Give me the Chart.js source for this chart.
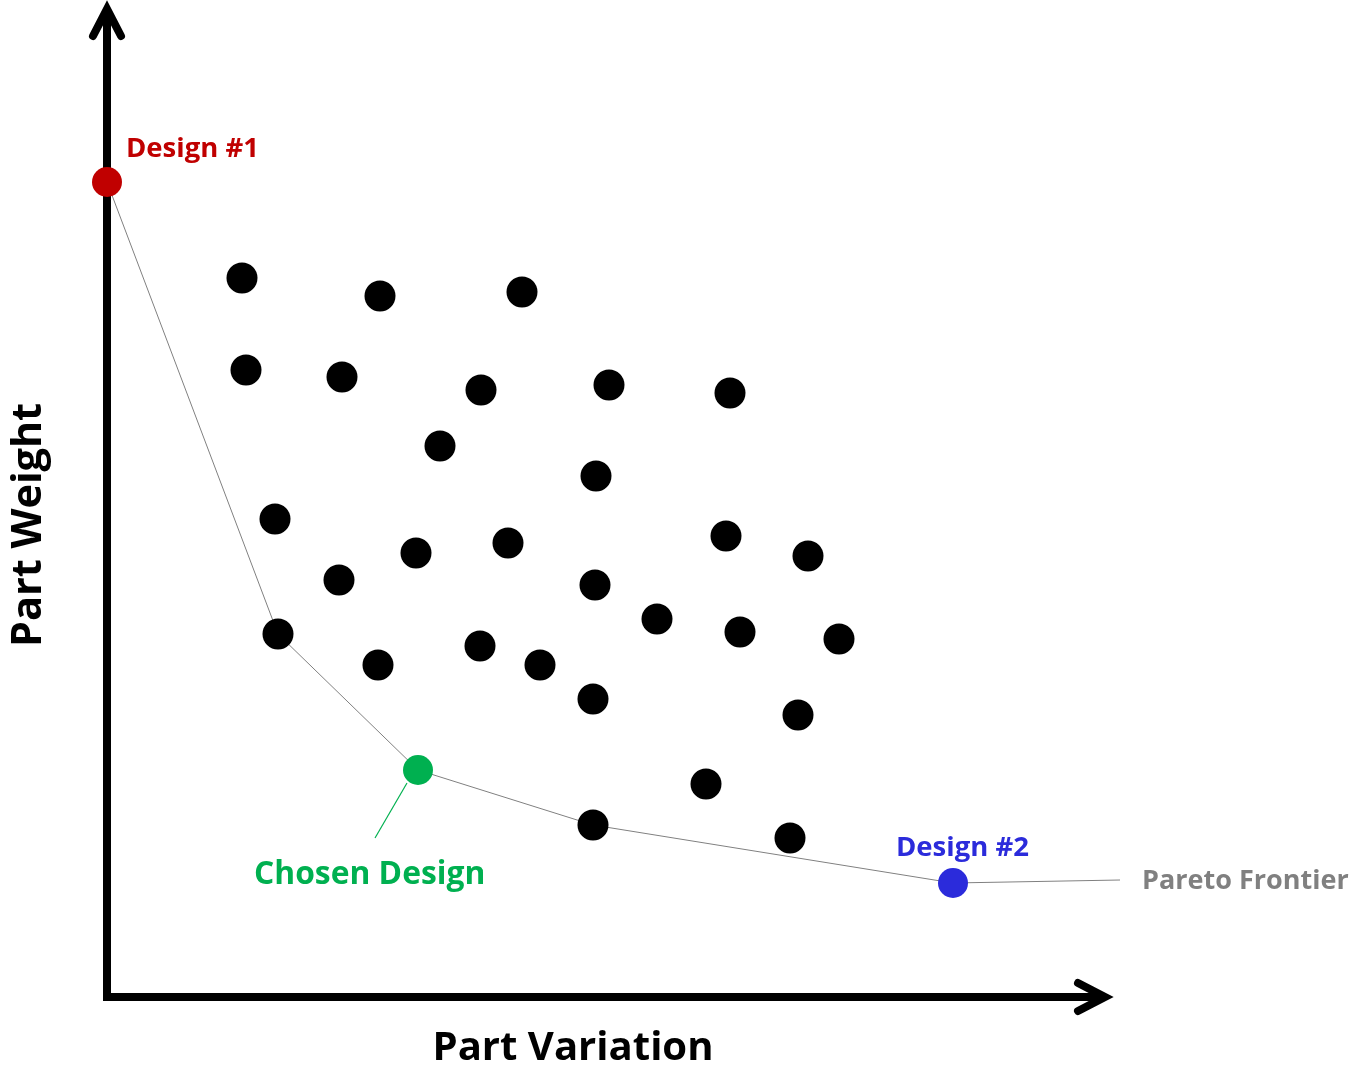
<!DOCTYPE html>
<html>
<head>
<meta charset="utf-8">
<title>Pareto Frontier</title>
<script src="https://cdn.jsdelivr.net/npm/chart.js@4/dist/chart.umd.min.js"></script>
<style>
  html, body { margin: 0; padding: 0; background: #fff; }
  #wrap { width: 1353px; height: 1070px; }
</style>
</head>
<body>
<div id="wrap"><canvas id="chart"></canvas></div>
<script>
// candidate designs (x = part variation, y = part weight)
const designX = [13.5, 27.3, 41.5, 13.9, 23.5, 37.4, 50.2, 62.3, 33.3, 48.9,
                 16.8, 30.9, 40.1, 61.9, 70.1, 23.2, 48.8, 55.0, 63.3, 73.2,
                 17.1, 27.1, 37.3, 43.3, 48.6, 69.1, 59.9, 48.6, 68.3];
const designY = [71.9, 70.1, 70.5, 62.7, 62.0, 60.7, 61.2, 60.4, 55.1, 52.1,
                 47.8, 44.4, 45.4, 46.1, 44.1, 41.7, 41.2, 37.8, 36.5, 35.8,
                 36.3, 33.2, 35.1, 33.2, 29.8, 28.2, 21.3, 17.2, 15.9];

// pareto frontier
const frontX = [0, 17.1, 31.1, 48.6, 84.6, 101.3];
const frontY = [81.5, 36.3, 22.7, 17.2, 11.4, 11.7];

// highlighted designs
const design1 = { x: 0, y: 81.5 };
const chosen = { x: 31.1, y: 22.7 };
const design2 = { x: 84.6, y: 11.4 };

const FONT = "'Open Sans', 'Noto Sans', sans-serif";

function toPoints(xs, ys) {
  return xs.map((x, i) => ({ x: x, y: ys[i] }));
}

// bold text sized so that it spans the given width
function fitText(ctx, text, width) {
  ctx.font = "bold 100px " + FONT;
  const size = 100 * width / ctx.measureText(text).width;
  ctx.font = "bold " + size.toFixed(1) + "px " + FONT;
}

const decorations = {
  id: "decorations",
  beforeDatasetsDraw(chart) {
    const ctx = chart.ctx;
    const xs = chart.scales.x, ys = chart.scales.y;
    const x0 = xs.getPixelForValue(0), y0 = ys.getPixelForValue(0);
    const xEnd = xs.getPixelForValue(100), yEnd = ys.getPixelForValue(99);

    ctx.save();
    ctx.strokeStyle = "#000";
    ctx.lineWidth = 8;
    ctx.lineCap = "butt";
    // axes
    ctx.beginPath();
    ctx.moveTo(x0, y0 + 4);
    ctx.lineTo(x0, yEnd + 2);
    ctx.moveTo(x0 - 4, y0);
    ctx.lineTo(xEnd - 2, y0);
    ctx.stroke();
    // arrow heads
    ctx.lineCap = "round";
    ctx.beginPath();
    ctx.moveTo(x0 - 14, yEnd + 29);
    ctx.lineTo(x0, yEnd + 2);
    ctx.lineTo(x0 + 14, yEnd + 29);
    ctx.moveTo(xEnd - 29, y0 - 14);
    ctx.lineTo(xEnd - 2, y0);
    ctx.lineTo(xEnd - 29, y0 + 14);
    ctx.stroke();

    // leader to chosen design
    const cx = xs.getPixelForValue(chosen.x), cy = ys.getPixelForValue(chosen.y);
    ctx.strokeStyle = "#00B050";
    ctx.lineWidth = 1.2;
    ctx.lineCap = "butt";
    ctx.beginPath();
    ctx.moveTo(cx - 11, cy + 13);
    ctx.lineTo(cx - 43, cy + 68);
    ctx.stroke();

    // axis titles
    ctx.fillStyle = "#000";
    ctx.textAlign = "center";
    ctx.textBaseline = "middle";
    fitText(ctx, "Part Variation", 281);
    ctx.fillText("Part Variation", 573, 1049);
    ctx.translate(29, 525);
    ctx.rotate(-Math.PI / 2);
    fitText(ctx, "Part Weight", 244);
    ctx.fillText("Part Weight", 0, 0);
    ctx.restore();

    // labels
    ctx.save();
    ctx.textAlign = "left";
    ctx.textBaseline = "middle";
    const lab = (text, color, width, px, py) => {
      ctx.fillStyle = color;
      fitText(ctx, text, width);
      ctx.fillText(text, px, py);
    };
    lab("Design #1", "#C00000", 133, xs.getPixelForValue(design1.x) + 19, ys.getPixelForValue(design1.y) - 33);
    lab("Design #2", "#2B2BDB", 133, xs.getPixelForValue(design2.x) - 57, ys.getPixelForValue(design2.y) - 35);
    lab("Chosen Design", "#00B050", 231, cx - 164, cy + 105);
    lab("Pareto Frontier", "#808080", 207,
        xs.getPixelForValue(frontX[frontX.length - 1]) + 22, ys.getPixelForValue(frontY[frontY.length - 1]) + 1);
    ctx.restore();
  }
};

new Chart(document.getElementById("chart"), {
  type: "scatter",
  data: {
    datasets: [
      {
        label: "Pareto Frontier",
        data: toPoints(frontX, frontY),
        showLine: true,
        borderColor: "#808080",
        borderWidth: 1,
        pointRadius: 0,
        order: 3
      },
      {
        label: "Designs",
        data: toPoints(designX, designY),
        backgroundColor: "#000",
        borderWidth: 0,
        pointRadius: 15.5,
        order: 2
      },
      {
        label: "Design #1",
        data: [design1],
        backgroundColor: "#C00000",
        borderWidth: 0,
        pointRadius: 15,
        order: 1
      },
      {
        label: "Chosen Design",
        data: [chosen],
        backgroundColor: "#00B050",
        borderWidth: 0,
        pointRadius: 15,
        order: 1
      },
      {
        label: "Design #2",
        data: [design2],
        backgroundColor: "#2B2BDB",
        borderWidth: 0,
        pointRadius: 15,
        order: 1
      }
    ]
  },
  options: {
    responsive: true,
    maintainAspectRatio: false,
    animation: false,
    layout: { padding: 0, autoPadding: false },
    plugins: { legend: { display: false }, tooltip: { enabled: false } },
    scales: {
      x: { type: "linear", min: -10.7, max: 124.6, display: false },
      y: { type: "linear", min: -7.3, max: 99.7, display: false }
    }
  },
  plugins: [decorations]
});
</script>
</body>
</html>
